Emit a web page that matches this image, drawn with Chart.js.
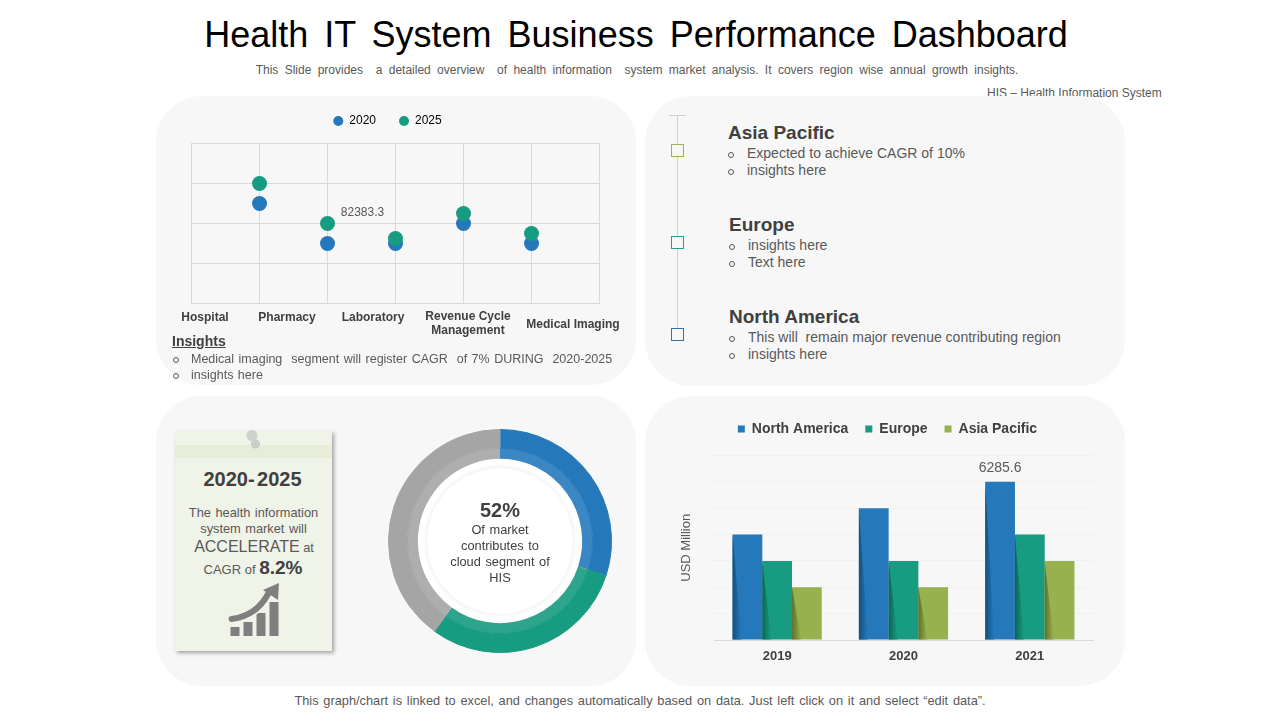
<!DOCTYPE html>
<html>
<head>
<meta charset="utf-8">
<title>Health IT System Business Performance Dashboard</title>
<script src="https://cdn.jsdelivr.net/npm/chart.js@4"></script>
<style>
  html, body { margin: 0; padding: 0; background: #fff; }
  body { position: relative; width: 1280px; height: 720px; overflow: hidden; font-family: "Liberation Sans", Arial, sans-serif; }
  .abs { position: absolute; white-space: nowrap; }
  .panel { position: absolute; width: 480px; background: #f7f7f7; border-radius: 46px; }
  .center { transform: translateX(-50%); text-align: center; }
  .grey { color: #595959; font-size: 14px; line-height: 17px; }
  .head { color: #404040; font-size: 19px; font-weight: bold; line-height: 22px; }
  .cat { color: #404040; font-size: 12px; font-weight: bold; line-height: 14px; }
  .bullet { position: absolute; width: 4px; height: 4px; border: 1px solid #595959; border-radius: 50%; }
  .marker { position: absolute; left: 671px; width: 11px; height: 11px; background: #f7f7f7; border: 1px solid; }
  canvas { position: absolute; }
</style>
</head>
<body>

<div class="abs center" style="left:636px;top:14px;font-size:36px;line-height:42px;color:#000;word-spacing:6px">Health IT System Business Performance Dashboard</div>
<div class="abs center" style="left:637px;top:62px;font-size:12px;line-height:16px;color:#595959;word-spacing:3px">This Slide provides&nbsp; a detailed overview&nbsp; of health information&nbsp; system market analysis. It covers region wise annual growth insights.</div>
<div class="abs" style="left:987px;top:86px;font-size:12px;line-height:15px;color:#595959">HIS – Health Information System</div>

<div class="panel" style="left:156px;top:96px;height:289px"></div>
<div class="panel" style="left:645px;top:96px;height:290px"></div>
<div class="panel" style="left:156px;top:396px;height:290px"></div>
<div class="panel" style="left:645px;top:396px;height:290px"></div>

<!-- Segment chart -->
<canvas id="segmentChart" style="left:155px;top:92px;width:465px;height:219px"></canvas>
<div class="abs cat center" style="left:205px;top:310px">Hospital</div>
<div class="abs cat center" style="left:287px;top:310px">Pharmacy</div>
<div class="abs cat center" style="left:373px;top:310px">Laboratory</div>
<div class="abs cat center" style="left:468px;top:309px">Revenue Cycle<br>Management</div>
<div class="abs cat center" style="left:573px;top:317px">Medical Imaging</div>
<div class="abs" style="left:172px;top:333px;font-size:14px;line-height:17px;font-weight:bold;color:#404040;text-decoration:underline">Insights</div>
<div class="bullet" style="left:173px;top:357px"></div>
<div class="abs grey" style="left:191px;top:351px;font-size:12.5px;word-spacing:1px">Medical imaging&nbsp; segment will register CAGR&nbsp; of 7% DURING&nbsp; 2020-2025</div>
<div class="bullet" style="left:173px;top:373px"></div>
<div class="abs grey" style="left:191px;top:367px;font-size:12.5px;word-spacing:1px">insights here</div>

<!-- Region timeline -->
<div class="abs" style="left:677px;top:115px;width:1px;height:226px;background:#d0d0d0"></div>
<div class="abs" style="left:669px;top:115px;width:17px;height:1px;background:#d0d0d0"></div>
<div class="marker" style="top:144px;border-color:#9ab355"></div>
<div class="marker" style="top:236px;border-color:#2a9d8a"></div>
<div class="marker" style="top:328px;border-color:#2e75a8"></div>

<div class="abs head" style="left:728px;top:122px">Asia Pacific</div>
<div class="bullet" style="left:728px;top:152px"></div>
<div class="abs grey" style="left:747px;top:145px">Expected to achieve CAGR of 10%</div>
<div class="bullet" style="left:728px;top:169px"></div>
<div class="abs grey" style="left:747px;top:162px">insights here</div>

<div class="abs head" style="left:729px;top:214px">Europe</div>
<div class="bullet" style="left:729px;top:244px"></div>
<div class="abs grey" style="left:748px;top:237px">insights here</div>
<div class="bullet" style="left:729px;top:261px"></div>
<div class="abs grey" style="left:748px;top:254px">Text here</div>

<div class="abs head" style="left:729px;top:306px">North America</div>
<div class="bullet" style="left:729px;top:336px"></div>
<div class="abs grey" style="left:748px;top:329px">This will&nbsp; remain major revenue contributing region</div>
<div class="bullet" style="left:729px;top:353px"></div>
<div class="abs grey" style="left:748px;top:346px">insights here</div>

<!-- Sticky note -->
<div class="abs" style="left:175px;top:431px;width:157px;height:220px;background:#f0f3e7;box-shadow:2px 2px 4px rgba(0,0,0,.35)"></div>
<div class="abs" style="left:175px;top:445px;width:157px;height:13px;background:#e7edd9"></div>
<svg class="abs" style="left:243px;top:427px" width="22" height="26" viewBox="0 0 22 26">
  <circle cx="12.5" cy="17" r="4.5" fill="#c4c8c4"/>
  <circle cx="12.5" cy="17" r="2.5" fill="none" stroke="#dcdedc" stroke-width="1"/>
  <circle cx="9" cy="8.5" r="5.5" fill="#cfd1cf"/>
</svg>
<div class="abs center" style="left:252.5px;top:467px;font-size:20px;line-height:24px;font-weight:bold;color:#404040;word-spacing:-3px">2020- 2025</div>
<div class="abs center" style="left:253.5px;top:505px;font-size:12.8px;line-height:16px;color:#595959;word-spacing:1px">The health information<br>system market will</div>
<div class="abs center" style="left:254px;top:537px;font-size:12.8px;line-height:20px;color:#595959"><span style="font-size:16px">ACCELERATE</span> at</div>
<div class="abs center" style="left:253px;top:557px;font-size:13px;line-height:22px;color:#595959">CAGR of <span style="font-size:19px;font-weight:bold;color:#404040">8.2%</span></div>
<svg class="abs" style="left:226px;top:582px" width="56" height="56" viewBox="0 0 56 56" fill="#7f7f7f">
  <rect x="4.5" y="45" width="9" height="9"/>
  <rect x="17.5" y="40" width="9" height="14"/>
  <rect x="30.5" y="31" width="9" height="23"/>
  <rect x="43.5" y="20" width="9" height="34"/>
  <path d="M4 37 C22 35 34 27 42 12" fill="none" stroke="#f0f3e7" stroke-width="10"/>
  <path d="M5.5 37 C22 35 34 27 42 12" fill="none" stroke="#7f7f7f" stroke-width="6" stroke-linecap="round"/>
  <path d="M53 1 L37 8 L52 18 Z"/>
</svg>

<!-- Donut -->
<div class="abs" style="left:417px;top:458px;width:166px;height:166px;border-radius:50%;background:#fff"></div>
<div class="abs" style="left:427px;top:468px;width:146px;height:146px;border-radius:50%;background:#fff;box-shadow:0 0 5px rgba(0,0,0,.1)"></div>
<canvas id="cloudChart" style="left:380px;top:421px;width:240px;height:240px"></canvas>
<div class="abs center" style="left:500px;top:497px;font-size:20px;line-height:26px;font-weight:bold;color:#404040">52%</div>
<div class="abs center" style="left:500px;top:522px;font-size:12.8px;line-height:16px;color:#404040;word-spacing:1px">Of market<br>contributes to<br>cloud segment of<br>HIS</div>

<!-- Region bars -->
<canvas id="regionChart" style="left:645px;top:405px;width:485px;height:275px"></canvas>

<div class="abs center" style="left:640px;top:693px;font-size:12.8px;line-height:16px;color:#595959;word-spacing:1.2px">This graph/chart is linked to excel, and changes automatically based on data. Just left click on it and select “edit data”.</div>

<script>
// =========================================================
// Shared colours
const blue = '#2579bb';
const teal = '#179c82';
const olive = '#97b14f';
const labelColor = '#404040';
const fontFamily = '"Liberation Sans", Arial, sans-serif';

Chart.defaults.font.family = fontFamily;
Chart.defaults.animation = false;
Chart.defaults.responsive = false;
Chart.defaults.devicePixelRatio = 1;

function sizeCanvas(id) {
  const el = document.getElementById(id);
  el.width = parseInt(el.style.width);
  el.height = parseInt(el.style.height);
  return el.getContext('2d');
}

// Adds a gap between the legend and the plot
function legendGap(extra) {
  return {
    id: 'legendGap',
    beforeInit(chart) {
      const fit = chart.legend.fit;
      chart.legend.fit = function () {
        fit.call(this);
        this.height += extra;
      };
    }
  };
}

// =========================================================
// Segment chart (dots)
const segments = ['Hospital', 'Pharmacy', 'Laboratory', 'Revenue Cycle Management', 'Medical Imaging'];
const segmentValues = {
  2020: [102979, 61787, 61787, 82383.3, 61787],
  2025: [123575, 82383.3, 66936, 92681, 72085]
};
const segmentStep = 41191.65;

new Chart(sizeCanvas('segmentChart'), {
  type: 'scatter',
  data: {
    datasets: [
      {
        label: '2020',
        order: 1,
        data: segments.map((s, i) => ({ x: i + 1, y: segmentValues[2020][i] })),
        backgroundColor: blue,
        borderWidth: 0,
        pointRadius: 7.5
      },
      {
        label: '2025',
        order: 0,
        data: segments.map((s, i) => ({ x: i + 1, y: segmentValues[2025][i] })),
        backgroundColor: teal,
        borderWidth: 0,
        pointRadius: 7.5
      }
    ]
  },
  options: {
    layout: { padding: { left: 20.5, right: 20.5, top: 0, bottom: 7 } },
    plugins: {
      tooltip: { enabled: false },
      legend: {
        position: 'top',
        labels: {
          color: '#000',
          font: { size: 12 },
          usePointStyle: true,
          boxHeight: 7,
          pointStyleWidth: 10,
          padding: 23,
          sort: (a, b) => a.datasetIndex - b.datasetIndex
        }
      }
    },
    scales: {
      x: {
        type: 'linear',
        min: 0,
        max: 6,
        ticks: { stepSize: 1, display: false },
        grid: { color: '#d9d9d9', drawTicks: false },
        border: { color: '#d9d9d9' }
      },
      y: {
        min: 0,
        max: segmentStep * 4,
        ticks: { stepSize: segmentStep, display: false },
        grid: { color: '#d9d9d9', drawTicks: false },
        border: { color: '#d9d9d9' },
        afterFit: scale => { scale.width = 16; }
      }
    }
  },
  plugins: [legendGap(6.5), {
    id: 'pharmacyLabel',
    afterDatasetsDraw(chart) {
      const { ctx, scales } = chart;
      ctx.save();
      ctx.font = '12px ' + fontFamily;
      ctx.fillStyle = '#595959';
      ctx.textAlign = 'center';
      ctx.textBaseline = 'middle';
      ctx.fillText(String(segmentValues[2025][1]), scales.x.getPixelForValue(2) + 35, scales.y.getPixelForValue(segmentValues[2025][1]) - 11);
      ctx.restore();
    }
  }]
});

// =========================================================
// Donut
const cloudShares = [30, 30, 40];
const donutDark = [blue, teal, '#a5a5a5'];
const donutLight = ['#3a87c3', '#2fa48d', '#aeaeae'];

new Chart(sizeCanvas('cloudChart'), {
  type: 'doughnut',
  data: {
    labels: ['Cloud', 'On-premise', 'Other'],
    datasets: [
      { data: cloudShares, backgroundColor: donutDark, borderColor: donutDark, borderWidth: 1, weight: 19 },
      { data: cloudShares, backgroundColor: donutLight, borderWidth: 0, weight: 10.5 }
    ]
  },
  options: {
    cutout: '73.66%',
    layout: { padding: 8 },
    plugins: { legend: { display: false }, tooltip: { enabled: false } }
  }
});

// =========================================================
// Region bars
const years = ['2019', '2020', '2021'];
const regionStep = 1047.6;
const regionData = [
  { label: 'North America', data: [4190.4, 5238, 6285.6], color: blue, shade: '#14507f' },
  { label: 'Europe', data: [3142.8, 3142.8, 4190.4], color: teal, shade: '#0d6553' },
  { label: 'Asia Pacific', data: [2095.2, 2095.2, 3142.8], color: olive, shade: '#5f7029' }
];

// Darker wedge down the left side of each bar
const barShade = {
  id: 'barShade',
  afterDatasetsDraw(chart) {
    const ctx = chart.ctx;
    chart.data.datasets.forEach((ds, i) => {
      chart.getDatasetMeta(i).data.forEach(bar => {
        const left = bar.x - bar.width / 2;
        const grad = ctx.createLinearGradient(left, 0, left + 9, 0);
        grad.addColorStop(0, ds.shade);
        grad.addColorStop(1, ds.color);
        ctx.save();
        ctx.fillStyle = grad;
        ctx.beginPath();
        ctx.moveTo(left, bar.y);
        ctx.lineTo(left + 9, bar.base);
        ctx.lineTo(left, bar.base);
        ctx.closePath();
        ctx.fill();
        ctx.restore();
      });
    });
  }
};

const topLabel = {
  id: 'topLabel',
  afterDatasetsDraw(chart) {
    const ctx = chart.ctx;
    const bar = chart.getDatasetMeta(0).data[2];
    ctx.save();
    ctx.font = '14px ' + fontFamily;
    ctx.fillStyle = '#595959';
    ctx.textAlign = 'center';
    ctx.textBaseline = 'middle';
    ctx.fillText(String(regionData[0].data[2]), bar.x, bar.y - 14);
    ctx.restore();
  }
};

new Chart(sizeCanvas('regionChart'), {
  type: 'bar',
  data: {
    labels: years,
    datasets: regionData.map(r => ({
      label: r.label,
      data: r.data,
      backgroundColor: r.color,
      color: r.color,
      shade: r.shade,
      borderWidth: 0,
      barPercentage: 1,
      categoryPercentage: 0.706
    }))
  },
  options: {
    layout: { padding: { left: 37, right: 37, top: 0, bottom: 0 } },
    plugins: {
      tooltip: { enabled: false },
      legend: {
        position: 'top',
        labels: {
          color: labelColor,
          font: { size: 14, weight: 'bold' },
          boxWidth: 7,
          boxHeight: 7,
          padding: 17
        }
      }
    },
    scales: {
      x: {
        grid: { display: false, drawTicks: false },
        border: { color: '#d9d9d9' },
        ticks: { color: labelColor, font: { size: 13, weight: 'bold' }, padding: 9 },
        afterFit: scale => { scale.height = 40; }
      },
      y: {
        min: 0,
        max: regionStep * 7,
        ticks: { stepSize: regionStep, display: false },
        grid: { color: '#f0f0f0', drawTicks: false },
        border: { display: false },
        title: { display: true, text: 'USD Million', color: '#595959', font: { size: 13 }, padding: { top: -3, bottom: 0 } },
        afterFit: scale => { scale.width = 32; }
      }
    }
  },
  plugins: [legendGap(9.5), barShade, topLabel]
});
</script>
</body>
</html>
